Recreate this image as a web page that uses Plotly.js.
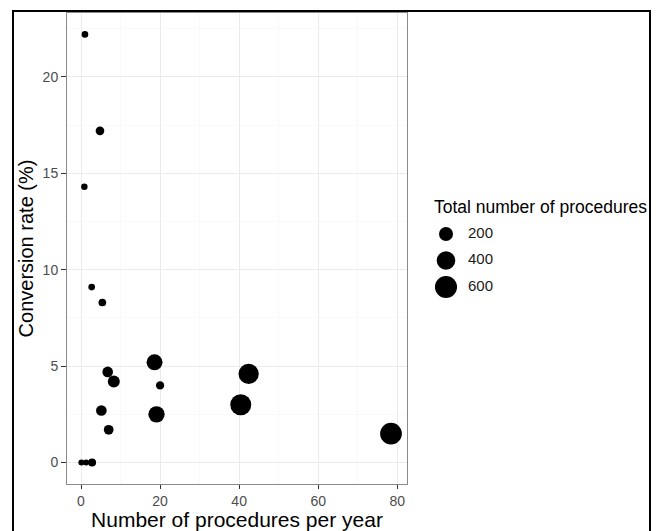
<!DOCTYPE html>
<html>
<head>
<meta charset="utf-8">
<script src="https://cdn.plot.ly/plotly-3.0.1.min.js"></script>
<style>
  html, body { margin: 0; padding: 0; background: #fff; }
  #wrap { position: relative; width: 658px; height: 531px; overflow: hidden; }
  #chart { position: absolute; left: 0; top: 0; width: 658px; height: 531px; }
  #frame { position: absolute; left: 12px; top: 10px; width: 635px; height: 600px;
           border: 2.5px solid #000; pointer-events: none; }
</style>
</head>
<body>
<div id="wrap">
  <div id="chart"></div>
  <div id="frame"></div>
</div>
<script>
// Data
const proceduresPerYear = [0.1, 1.3, 2.8, 1.0, 4.8, 0.85, 2.7, 5.4, 6.75, 8.3, 5.15, 7.0, 18.6, 20.0, 19.1, 42.4, 40.4, 78.4];
const conversionRate    = [0, 0, 0, 22.2, 17.2, 14.3, 9.1, 8.3, 4.7, 4.2, 2.7, 1.7, 5.2, 4.0, 2.5, 4.6, 3.0, 1.5];
const totalProcedures   = [15, 15, 41, 22, 53, 20, 22, 36, 97, 133, 97, 74, 278, 46, 290, 492, 532, 575];

const legendValues = [200, 400, 600];
const legendTitle = "Total number of procedures";
const xTickVals = [0, 20, 40, 60, 80];
const yTickVals = [0, 5, 10, 15, 20];

// size scale (area-like): diameter in px
function diam(v) { return 3 + 0.78 * Math.sqrt(v); }

const FONT = "Liberation Sans, Arial, Helvetica, sans-serif";

const W = 658, H = 531;
const mL = 67, mR = 8, mT = 13, mB = 47;
const pw = W - mL - mR, ph = H - mT - mB;
const px2x = p => (p - mL) / pw;
const py2y = p => (H - mB - p) / ph;

const traces = [
  {
    type: 'scatter', mode: 'markers',
    x: proceduresPerYear, y: conversionRate,
    marker: { color: '#000', opacity: 1, size: totalProcedures.map(diam), sizemode: 'diameter', line: { width: 0 } },
    hoverinfo: 'x+y', showlegend: false, cliponaxis: false
  },
  {
    type: 'scatter', mode: 'markers',
    x: legendValues.map(() => 0), y: legendValues.map((v, i) => i),
    xaxis: 'x2', yaxis: 'y2',
    marker: { color: '#000', opacity: 1, size: legendValues.map(diam), sizemode: 'diameter', line: { width: 0 } },
    showlegend: false, hoverinfo: 'skip', cliponaxis: false
  },
  {
    type: 'scatter', mode: 'text',
    x: legendValues.map(() => 2.2), y: legendValues.map((v, i) => i),
    xaxis: 'x2', yaxis: 'y2',
    text: legendValues.map(String), textposition: 'middle right',
    textfont: { family: FONT, size: 15, color: '#1a1a1a' },
    showlegend: false, hoverinfo: 'skip', cliponaxis: false
  }
];

const layout = {
  width: W, height: H,
  margin: { l: mL, r: mR, t: mT, b: mB, pad: 0 },
  paper_bgcolor: '#fff', plot_bgcolor: '#fff',
  showlegend: false,
  font: { family: FONT, color: '#000' },
  xaxis: {
    domain: [0, px2x(407)],
    range: [-3.54, 82.45],
    tickvals: xTickVals, ticktext: xTickVals.map(String),
    ticks: 'outside', ticklen: 4, tickcolor: '#333', tickwidth: 1,
    tickfont: { family: FONT, size: 14, color: '#4d4d4d' },
    showgrid: true, gridcolor: '#ebebeb', gridwidth: 1,
    minor: { dtick: 10, tick0: 0, showgrid: true, gridcolor: '#f5f5f5', gridwidth: 0.6 },
    showline: true, linecolor: '#8a8a8a', linewidth: 1, mirror: true,
    zeroline: false, fixedrange: true,
    title: { text: 'Number of procedures per year', font: { family: FONT, size: 21, color: '#000' }, standoff: 6 },
    anchor: 'y'
  },
  yaxis: {
    domain: [0, 1],
    range: [-1.11, 23.31],
    tickvals: yTickVals, ticktext: yTickVals.map(String),
    ticks: 'outside', ticklen: 5, tickcolor: '#333', tickwidth: 1,
    tickfont: { family: FONT, size: 14, color: '#4d4d4d' },
    showgrid: true, gridcolor: '#ebebeb', gridwidth: 1,
    minor: { dtick: 2.5, tick0: 0, showgrid: true, gridcolor: '#f5f5f5', gridwidth: 0.6 },
    showline: true, linecolor: '#8a8a8a', linewidth: 1, mirror: true,
    zeroline: false, fixedrange: true,
    title: { text: 'Conversion rate (%)', font: { family: FONT, size: 20, color: '#000' }, standoff: 3 },
    anchor: 'x'
  },
  xaxis2: {
    domain: [px2x(436), px2x(496)], range: [-1, 5], anchor: 'y2',
    visible: false, fixedrange: true
  },
  yaxis2: {
    domain: [py2y(234 + 2.5 * 26.5), py2y(234 - 0.5 * 26.5)], range: [2.5, -0.5], anchor: 'x2',
    visible: false, fixedrange: true
  },
  annotations: [
    {
      xref: 'paper', yref: 'paper', x: px2x(432), y: py2y(207),
      xanchor: 'left', yanchor: 'middle', showarrow: false,
      text: legendTitle, font: { family: FONT, size: 17.5, color: '#000' }
    }
  ]
};

Plotly.newPlot('chart', traces, layout, { displayModeBar: false, staticPlot: true });
</script>
</body>
</html>
